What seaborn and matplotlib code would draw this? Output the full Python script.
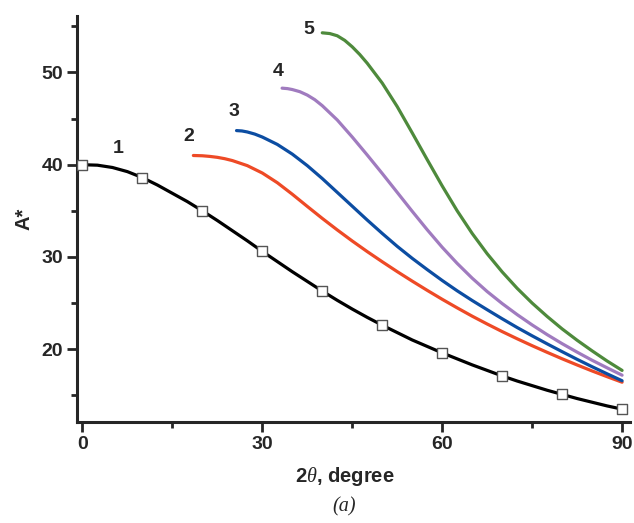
import matplotlib
matplotlib.use("Agg")
import matplotlib.pyplot as plt
from matplotlib.ticker import MultipleLocator
import seaborn as sns
import pandas as pd

# ---- data ----
# curve 1: line values and square markers (every 10 degrees)
x1 = [0, 2.5, 5, 7.5, 10, 12.5, 15, 17.5, 20, 22.5, 25, 27.5, 30, 32.5, 35, 37.5, 40,
      42.5, 45, 47.5, 50, 52.5, 55, 57.5, 60, 62.5, 65, 67.5, 70, 72.5, 75, 77.5, 80,
      82.5, 85, 87.5, 90]
y1 = [40.0, 39.95, 39.7, 39.25, 38.6, 37.8, 36.9, 36.0, 35.0, 33.95, 32.85, 31.75, 30.6,
      29.5, 28.4, 27.35, 26.3, 25.3, 24.35, 23.45, 22.6, 21.8, 21.0, 20.3, 19.6, 18.95,
      18.3, 17.7, 17.1, 16.55, 16.05, 15.55, 15.1, 14.65, 14.25, 13.85, 13.5]
marker_x = [0, 10, 20, 30, 40, 50, 60, 70, 80, 90]
marker_y = [40.0, 38.6, 35.0, 30.6, 26.3, 22.6, 19.6, 17.1, 15.1, 13.5]

x2 = [18.5, 20, 21.25, 22.5, 23.75, 25, 27.5, 30, 32.5, 35, 37.5, 40, 42.5, 45, 47.5, 50,
      52.5, 55, 57.5, 60, 62.5, 65, 67.5, 70, 72.5, 75, 77.5, 80, 82.5, 85, 87.5, 90]
y2 = [41.0, 40.97, 40.9, 40.8, 40.65, 40.45, 39.9, 39.1, 38.05, 36.8, 35.48, 34.18, 32.93,
      31.73, 30.58, 29.48, 28.41, 27.38, 26.38, 25.41, 24.48, 23.58, 22.73, 21.91, 21.13,
      20.38, 19.66, 18.96, 18.29, 17.64, 17.02, 16.42]

x3 = [25.7, 26.6, 27.5, 28.75, 30, 32.5, 35, 37.5, 40, 42.5, 45, 47.5, 50, 52.5, 55, 57.5,
      60, 62.5, 65, 67.5, 70, 72.5, 75, 77.5, 80, 82.5, 85, 87.5, 90]
y3 = [43.7, 43.66, 43.55, 43.32, 43.0, 42.2, 41.15, 39.9, 38.5, 37.0, 35.5, 34.0, 32.55,
      31.15, 29.85, 28.63, 27.45, 26.33, 25.28, 24.28, 23.3, 22.35, 21.45, 20.58, 19.73,
      18.9, 18.1, 17.33, 16.58]

x4 = [33.3, 34.2, 35, 36.25, 37.5, 38.75, 40, 42.5, 45, 47.5, 50, 52.5, 55, 57.5, 60, 62.5,
      65, 67.5, 70, 72.5, 75, 77.5, 80, 82.5, 85, 87.5, 90]
y4 = [48.3, 48.25, 48.15, 47.92, 47.55, 47.05, 46.4, 44.85, 43.0, 41.05, 39.05, 37.0,
      34.95, 32.95, 31.05, 29.3, 27.7, 26.25, 24.95, 23.75, 22.63, 21.58, 20.6, 19.68,
      18.8, 17.98, 17.18]

x5 = [40, 41.25, 42.5, 43.75, 45, 46.25, 47.5, 50, 52.5, 55, 57.5, 60, 62.5, 65, 67.5, 70,
      72.5, 75, 77.5, 80, 82.5, 85, 87.5, 90]
y5 = [54.3, 54.22, 53.98, 53.48, 52.78, 51.95, 51.0, 48.85, 46.3, 43.45, 40.55, 37.7,
      35.0, 32.55, 30.35, 28.38, 26.6, 25.0, 23.55, 22.2, 20.97, 19.82, 18.72, 17.7]

curve_labels = ["1", "2", "3", "4", "5"]
label_x = [6.0, 17.8, 25.3, 32.7, 37.8]
label_y = [41.8, 43.1, 45.8, 50.1, 54.7]

colors = ["#000000", "#EE4A26", "#0C4DA2", "#A07BBF", "#4E8A3C"]

# ---- build long table ----
xs = [x1, x2, x3, x4, x5]
ys = [y1, y2, y3, y4, y5]
rows = []
for lab, xx, yy in zip(curve_labels, xs, ys):
    for a, b in zip(xx, yy):
        rows.append({"curve": lab, "x": a, "y": b})
df = pd.DataFrame(rows)
markers_df = pd.DataFrame({"x": marker_x, "y": marker_y})

sns.set_style("ticks")
plt.rcParams["font.family"] = ["Liberation Sans", "DejaVu Sans"]
plt.rcParams["mathtext.fontset"] = "custom"
plt.rcParams["mathtext.it"] = "Liberation Serif:italic"

fig = plt.figure(figsize=(6.34, 5.23), dpi=100)
ax = fig.add_axes([0.1215, 0.193, 0.872, 0.776])

sns.lineplot(data=df, x="x", y="y", hue="curve", palette=dict(zip(curve_labels, colors)),
             linewidth=2.3, legend=False, ax=ax, sort=True, estimator=None)
sns.scatterplot(data=markers_df, x="x", y="y", marker="s", s=60, color="white",
                edgecolor="#555555", linewidth=1.0, ax=ax, zorder=5, legend=False)

for t, tx, ty in zip(curve_labels, label_x, label_y):
    ax.text(tx, ty, t, fontsize=14, fontweight="bold", ha="center", va="center")

ax.set_xlim(-0.9, 91.3)
ax.set_ylim(12.1, 56.1)
ax.xaxis.set_major_locator(MultipleLocator(30))
ax.xaxis.set_minor_locator(MultipleLocator(15))
ax.yaxis.set_minor_locator(MultipleLocator(5))
ax.set_yticks([20, 30, 40, 50])

for s in ["top", "right"]:
    ax.spines[s].set_visible(False)
for s in ["left", "bottom"]:
    ax.spines[s].set_linewidth(2.2)

ax.tick_params(which="major", direction="out", length=7, width=2, labelsize=14, pad=3)
ax.tick_params(which="minor", direction="out", length=4, width=2)
for lbl in ax.get_xticklabels() + ax.get_yticklabels():
    lbl.set_fontweight("bold")

ax.set_xlabel(r"2$\mathit{\theta}$, degree", fontsize=14.5, fontweight="bold")
ax.xaxis.set_label_coords(0.484, -0.105)
ax.set_ylabel("A*", fontsize=14.5, fontweight="bold", labelpad=6)

fig.text(0.543, 0.03, "(a)", fontsize=14.5, style="italic", family="Liberation Serif",
         ha="center", va="center")

fig.savefig("out.png", dpi=100)
